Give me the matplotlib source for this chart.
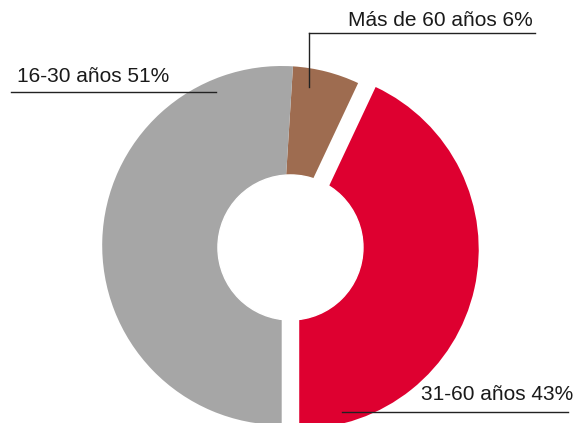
import numpy as np
import matplotlib
matplotlib.use('Agg')
import matplotlib.pyplot as plt
from matplotlib.patches import Circle
from matplotlib.lines import Line2D

labels = ['31-60 años 43%', 'Más de 60 años 6%', '16-30 años 51%']
values = [43, 6, 51]
colors = ['#DE0030', '#9E6C50', '#A6A6A6']
explode = [0.1, 0, 0]

W, H = 587, 423
# pixel position of the pie centre and radius in the reference
cx, cy, R = 281.7, 245.5, 179.5

plt.rcParams['font.family'] = ['Liberation Sans', 'DejaVu Sans']

fig = plt.figure(figsize=(W / 100, H / 100), dpi=100)
ax = fig.add_axes([0, 0, 1, 1])

wedges, _ = ax.pie(values, colors=colors, explode=explode, startangle=-90,
                   counterclock=True, radius=1, wedgeprops=dict(linewidth=0))

# white hole, centred between the pie centre and the exploded red slice
mid = np.deg2rad(-90 + values[0] / sum(values) * 360 / 2)
hx, hy = explode[0] / 2 * np.cos(mid), explode[0] / 2 * np.sin(mid)
ax.add_patch(Circle((hx, hy), 0.404, color='white', zorder=5))

ax.set_xlim(-cx / R, (W - cx) / R)
ax.set_ylim(-(H - cy) / R, cy / R)
ax.set_aspect('equal')
ax.axis('off')


def px(x, y):
    return x / W, 1 - y / H


line_kw = dict(color='#222222', linewidth=1.0)
# Más de 60 años
fig.add_artist(Line2D([px(308.7, 0)[0], px(535, 0)[0]], [px(0, 33.3)[1]] * 2, **line_kw))
fig.add_artist(Line2D([px(308.7, 0)[0]] * 2, [px(0, 33.3)[1], px(0, 87)[1]], **line_kw))
fig.text(*px(533, 25.5), labels[1], ha='right', va='baseline', fontsize=15, color='#1a1a1a')
# 16-30 años
fig.add_artist(Line2D([px(11, 0)[0], px(216, 0)[0]], [px(0, 92.3)[1]] * 2, **line_kw))
fig.text(*px(16.7, 81.5), labels[2], ha='left', va='baseline', fontsize=15, color='#1a1a1a')
# 31-60 años
fig.add_artist(Line2D([px(341.7, 0)[0], px(568.3, 0)[0]], [px(0, 412)[1]] * 2, **line_kw))
fig.text(*px(573.5, 400), labels[0], ha='right', va='baseline', fontsize=15, color='#1a1a1a')

plt.savefig('out.png', dpi=100)
